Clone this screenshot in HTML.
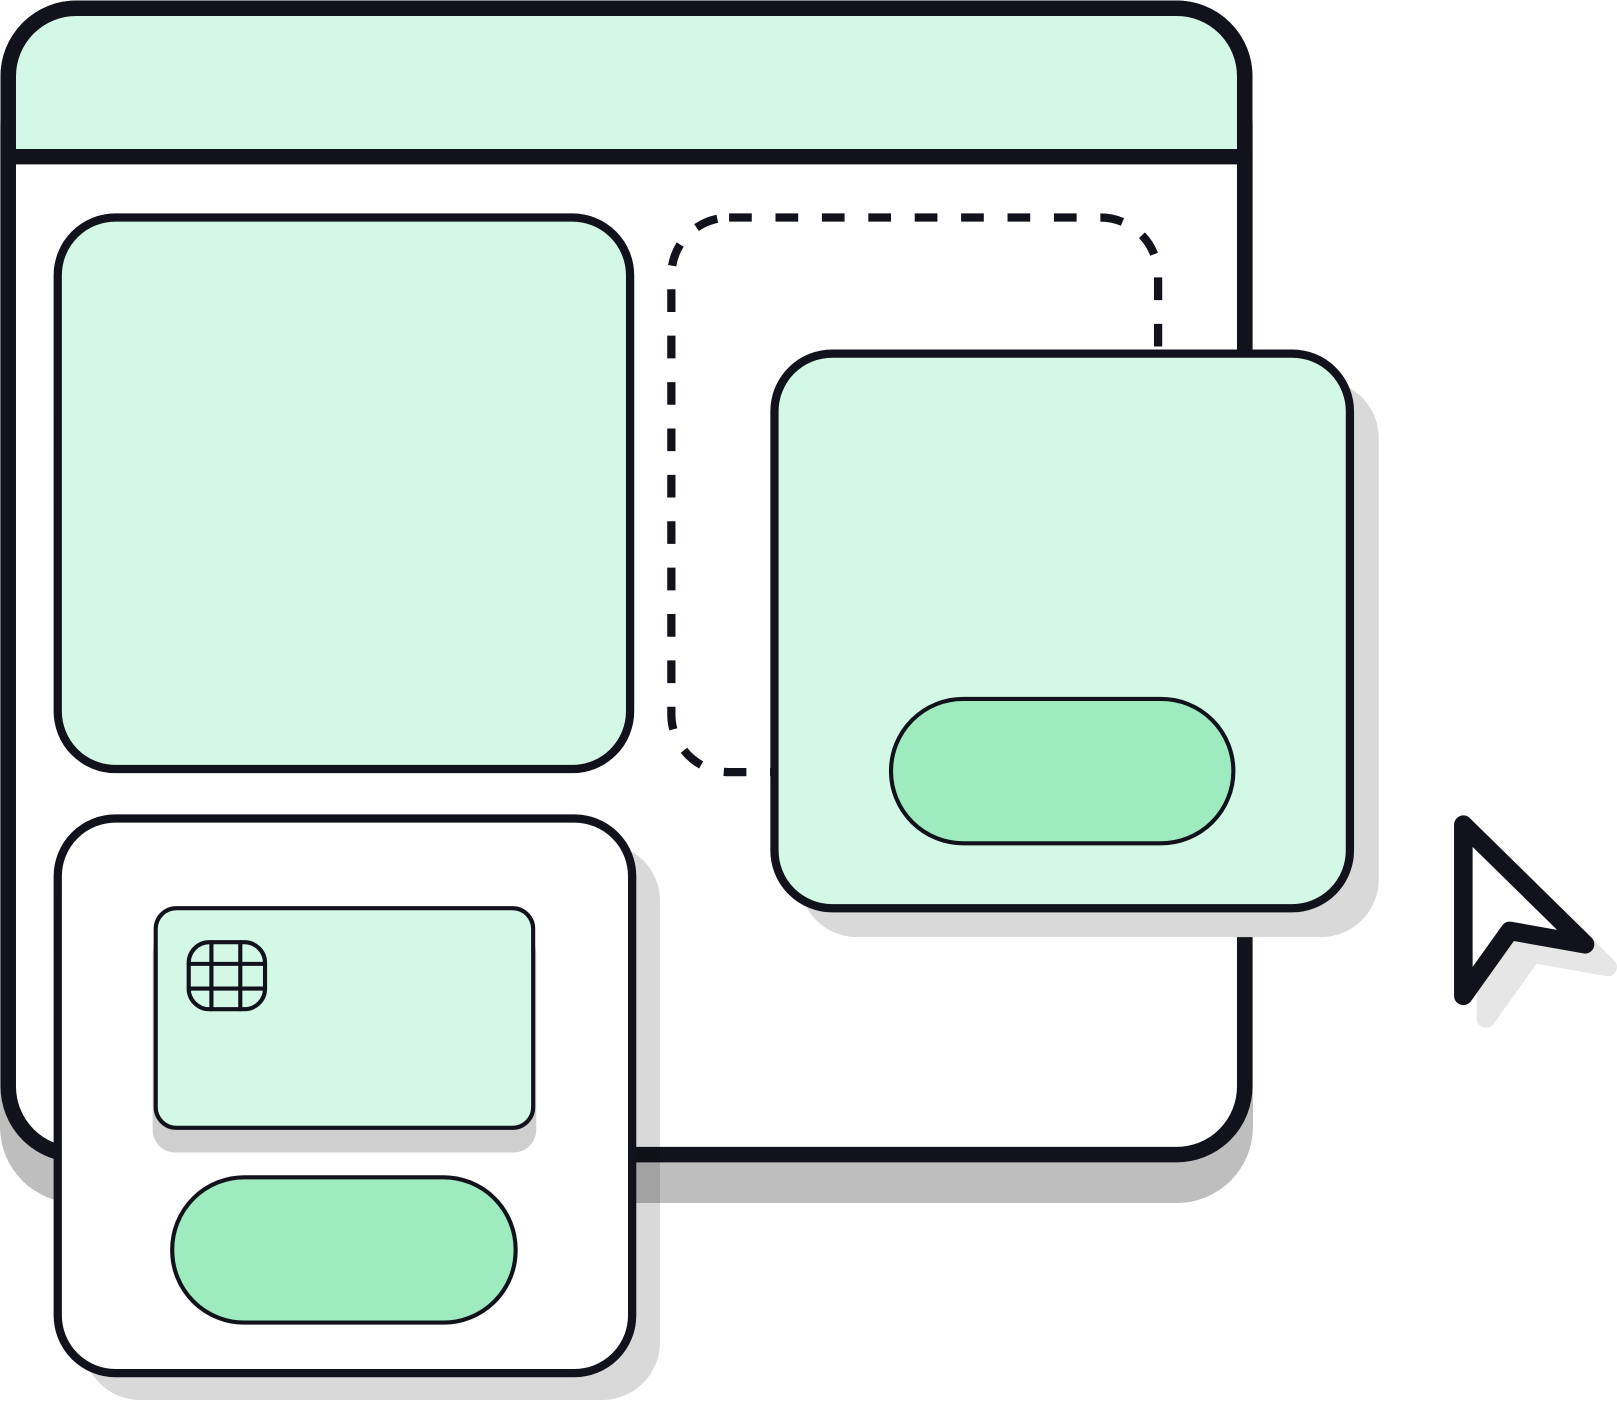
<!DOCTYPE html>
<html><head><meta charset="utf-8"><style>html,body{margin:0;padding:0;background:#fff;width:1617px;height:1402px;overflow:hidden}svg{display:block}</style></head>
<body>
<svg width="1617" height="1402" viewBox="0 0 1568 1360" preserveAspectRatio="none" xmlns="http://www.w3.org/2000/svg">
<g stroke="#12121c" stroke-linejoin="round" stroke-linecap="round">
<rect x="0" y="50" width="1215" height="1117" rx="74" fill="#bebebe" stroke="none"/>
<rect x="8" y="8" width="1199" height="1112" rx="66" fill="#fff" stroke-width="15"/>
<path d="M8 152 V74 A66 66 0 0 1 74 8 H1141 A66 66 0 0 1 1207 74 V152 Z" fill="#d3f8e6" stroke-width="15"/>
<rect x="56" y="211" width="555" height="535" rx="56" fill="#d3f8e6" stroke-width="8"/>
<rect x="651" y="211" width="472" height="538" rx="56" fill="none" stroke-width="8" stroke-dasharray="22 23" stroke-linecap="butt"/>
<rect x="775" y="369" width="562" height="540" rx="56" fill="#d9d9d9" stroke="none"/>
<rect x="751" y="343" width="558" height="538" rx="56" fill="#d3f8e6" stroke-width="8"/>
<rect x="864" y="678" width="332" height="140" rx="70" fill="#9eebc0" stroke-width="4"/>
<rect x="80" y="818" width="560" height="540" rx="56" fill="#d9d9d9" stroke="none" style="mix-blend-mode:multiply"/>
<rect x="56" y="794" width="557" height="538" rx="56" fill="#fff" stroke-width="8"/>
<rect x="148" y="903" width="372" height="215" rx="22" fill="#cfcfcf" stroke="none"/>
<rect x="151" y="881" width="366" height="213" rx="20" fill="#d3f8e6" stroke-width="4"/>
<rect x="183" y="914" width="74" height="65" rx="20" fill="#d3f8e6" stroke-width="4"/>
<path d="M205 914 V979 M233 914 V979 M183 935 H257 M183 959 H257" fill="none" stroke-width="4"/>
<rect x="167" y="1142" width="333" height="141" rx="70" fill="#9eebc0" stroke-width="4"/>
<path d="M1441 822 L1559 938 L1486 925 L1441 988 Z" fill="#e6e6e6" stroke="#e6e6e6" stroke-width="18"/>
<path d="M1419 800 L1537 916 L1464 903 L1419 966 Z" fill="#fff" stroke-width="18"/>
</g>
</svg>
</body></html>
